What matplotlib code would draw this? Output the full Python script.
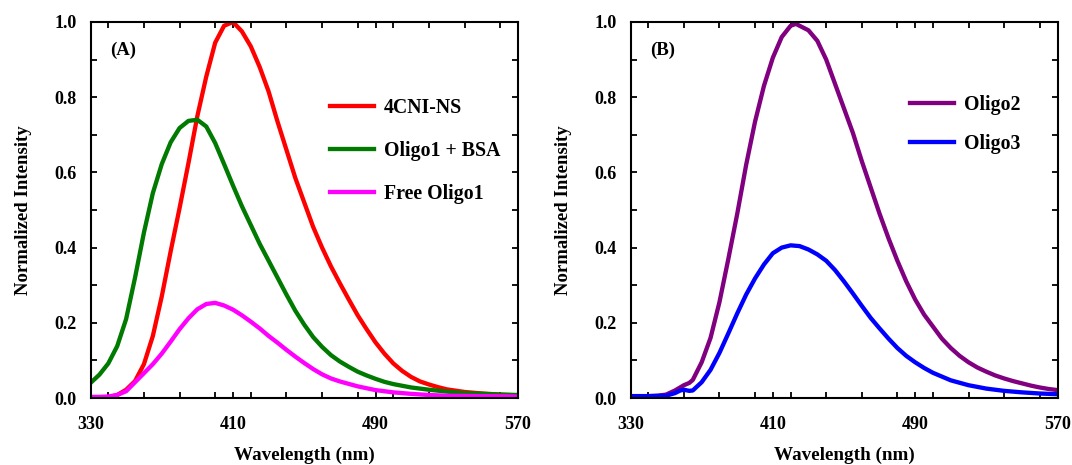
import matplotlib
matplotlib.use("Agg")
import matplotlib.pyplot as plt
from matplotlib.ticker import MultipleLocator, FormatStrFormatter

# ---- data ----
wl_red = [330, 335, 340, 345, 350, 355, 360, 365, 370, 375, 380, 385, 390, 395, 400, 405, 410,
          415, 420, 425, 430, 435, 440, 445, 450, 455, 460, 465, 470, 475, 480, 485, 490, 495,
          500, 505, 510, 515, 520, 525, 530, 540, 550, 560, 570]
int_red = [0.0, 0.0, 0.002, 0.008, 0.022, 0.045, 0.09, 0.165, 0.27, 0.39, 0.505, 0.625, 0.75,
           0.855, 0.945, 0.99, 1.0, 0.975, 0.935, 0.88, 0.815, 0.735, 0.66, 0.585, 0.52, 0.455,
           0.40, 0.35, 0.305, 0.262, 0.22, 0.183, 0.148, 0.118, 0.092, 0.072, 0.056, 0.044,
           0.036, 0.029, 0.023, 0.016, 0.012, 0.009, 0.007]

wl_green = [330, 335, 340, 345, 350, 355, 360, 365, 370, 375, 380, 385, 390, 395, 400, 405, 410,
            415, 420, 425, 430, 435, 440, 445, 450, 455, 460, 465, 470, 475, 480, 485, 490, 495,
            500, 510, 520, 530, 540, 550, 560, 570]
int_green = [0.04, 0.062, 0.092, 0.138, 0.21, 0.32, 0.44, 0.545, 0.622, 0.68, 0.718, 0.737, 0.74,
             0.722, 0.678, 0.622, 0.565, 0.51, 0.46, 0.41, 0.365, 0.32, 0.275, 0.232, 0.195, 0.162,
             0.136, 0.114, 0.097, 0.083, 0.07, 0.06, 0.051, 0.043, 0.037, 0.028, 0.022, 0.017,
             0.013, 0.011, 0.009, 0.008]

wl_mag = [330, 335, 340, 345, 350, 355, 360, 365, 370, 375, 380, 385, 390, 395, 400, 405, 410,
          415, 420, 425, 430, 435, 440, 445, 450, 455, 460, 465, 470, 480, 490, 500, 510, 520,
          530, 550, 570]
int_mag = [0.003, 0.003, 0.004, 0.008, 0.018, 0.042, 0.066, 0.09, 0.118, 0.15, 0.183, 0.212,
           0.236, 0.25, 0.253, 0.246, 0.235, 0.22, 0.203, 0.185, 0.165, 0.147, 0.128, 0.11, 0.093,
           0.077, 0.063, 0.052, 0.044, 0.031, 0.021, 0.015, 0.011, 0.008, 0.006, 0.005, 0.004]

wl_o2 = [330, 340, 345, 350, 355, 360, 363, 365, 370, 375, 380, 385, 390, 395, 400, 405, 410,
         415, 420, 423, 425, 430, 435, 440, 445, 450, 455, 460, 465, 470, 475, 480, 485, 490,
         495, 500, 505, 510, 515, 520, 525, 530, 535, 540, 545, 550, 555, 560, 565, 570]
int_o2 = [0.005, 0.005, 0.006, 0.009, 0.02, 0.034, 0.04, 0.048, 0.095, 0.16, 0.255, 0.37, 0.49,
          0.62, 0.735, 0.83, 0.905, 0.96, 0.99, 0.995, 0.99, 0.978, 0.95, 0.9, 0.835, 0.77,
          0.705, 0.63, 0.56, 0.49, 0.425, 0.365, 0.31, 0.262, 0.222, 0.19, 0.158, 0.133, 0.112,
          0.095, 0.081, 0.07, 0.06, 0.052, 0.045, 0.039, 0.033, 0.028, 0.024, 0.021]

wl_o3 = [330, 340, 350, 355, 358, 360, 363, 365, 370, 375, 380, 385, 390, 395, 400, 405, 410,
         415, 420, 425, 430, 435, 440, 445, 450, 455, 460, 465, 470, 475, 480, 485, 490, 495,
         500, 510, 520, 530, 540, 550, 560, 570]
int_o3 = [0.005, 0.005, 0.006, 0.013, 0.02, 0.022, 0.019, 0.02, 0.042, 0.075, 0.12, 0.172, 0.225,
          0.275, 0.318, 0.355, 0.385, 0.4, 0.406, 0.404, 0.395, 0.382, 0.365, 0.34, 0.31, 0.278,
          0.245, 0.213, 0.185, 0.158, 0.133, 0.112, 0.095, 0.08, 0.067, 0.047, 0.034, 0.025,
          0.019, 0.015, 0.012, 0.010]

labels_A = ["4CNI-NS", "Oligo1 + BSA", "Free Oligo1"]
labels_B = ["Oligo2", "Oligo3"]
colors_A = ["#FF0000", "#007A00", "#FF00FF"]
colors_B = ["#800080", "#0000FF"]
xticks = [330, 410, 490, 570]

plt.rcParams["font.family"] = ["Liberation Serif", "DejaVu Serif"]
plt.rcParams["font.weight"] = "bold"

fig = plt.figure(figsize=(10.72, 4.65), dpi=100)
axA = fig.add_axes([90.5 / 1072, 1 - 398 / 465, 427.5 / 1072, 376 / 465])
axB = fig.add_axes([630.5 / 1072, 1 - 398 / 465, 427 / 1072, 376 / 465])


def style(ax, label):
    ax.set_xlim(330, 570)
    ax.set_ylim(0, 1.0)
    ax.set_xticks(xticks)
    ax.xaxis.set_minor_locator(MultipleLocator(20))
    ax.yaxis.set_major_locator(MultipleLocator(0.2))
    ax.yaxis.set_minor_locator(MultipleLocator(0.1))
    ax.yaxis.set_major_formatter(FormatStrFormatter("%.1f"))
    ax.tick_params(which="both", direction="in", top=True, right=True,
                   length=4, width=1.3, labelsize=13)
    ax.tick_params(axis="x", which="both", pad=13)
    ax.tick_params(axis="y", which="both", pad=10)
    for s in ax.spines.values():
        s.set_linewidth(1.5)
    for t in ax.get_xticklabels() + ax.get_yticklabels():
        t.set_fontweight("bold")
    ax.set_xlabel("Wavelength (nm)", fontsize=13.8, fontweight="bold", labelpad=10)
    ax.set_ylabel("Normalized Intensity", fontsize=13.5, fontweight="bold", labelpad=16)
    ax.text(0.046, 0.925, label, transform=ax.transAxes, fontsize=13.5,
            fontweight="bold", va="center", ha="left")


for wl, it, c, lab in zip([wl_red, wl_green, wl_mag], [int_red, int_green, int_mag],
                          colors_A, labels_A):
    axA.plot(wl, it, color=c, lw=3.1, label=lab)
for wl, it, c, lab in zip([wl_o2, wl_o3], [int_o2, int_o3], colors_B, labels_B):
    axB.plot(wl, it, color=c, lw=3.1, label=lab)

style(axA, "(A)")
style(axB, "(B)")

legA = axA.legend(loc="upper left", bbox_to_anchor=(0.56, 0.797), frameon=False,
                  fontsize=14.3, handlelength=2.2, handletextpad=0.5,
                  labelspacing=1.14, borderpad=0, borderaxespad=0)
legB = axB.legend(loc="upper left", bbox_to_anchor=(0.655, 0.805), frameon=False,
                  fontsize=14.3, handlelength=2.2, handletextpad=0.5,
                  labelspacing=0.95, borderpad=0, borderaxespad=0)
for leg in (legA, legB):
    for t in leg.get_texts():
        t.set_fontweight("bold")

fig.savefig("out.png", dpi=100)
